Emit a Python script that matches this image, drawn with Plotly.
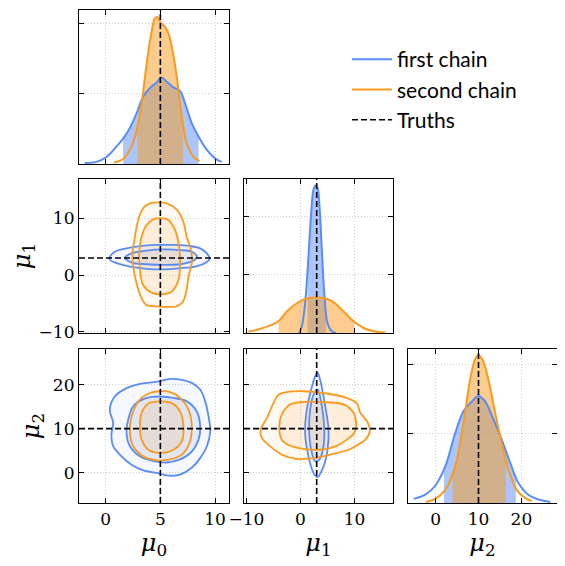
import numpy as np
import plotly.graph_objects as go

BLUE = "#5a8cf7"
ORANGE = "#f99b1e"
SERIF = "DejaVu Serif"

truths = [5, 3, 10]
labels = ["<i>μ</i><sub>0</sub>", "<i>μ</i><sub>1</sub>", "<i>μ</i><sub>2</sub>"]
ranges = [[-2.43, 11.27], [-10.43, 17.1], [-6.43, 28.3]]
row_ranges = [None, [-10.2, 16.9], [-6.9, 28.1]]
tickvals = [[0, 5, 10], [-10, 0, 10], [0, 10, 20]]
diag_top = [2.19, 2.64, 2.23]

# 1D marginals, heights in units of the diagonal tick spacing
mu0_first_x = [-1.91, -0.84, 0.08, 1.0, 1.6, 2.2, 2.83, 3.44, 4.05, 4.66, 5.12, 5.58, 6.19, 6.8, 7.26, 7.87, 8.49, 9.25, 10.0, 10.6]
mu0_first_h = [0.014, 0.03, 0.10, 0.25, 0.36, 0.51, 0.72, 0.96, 1.08, 1.16, 1.23, 1.17, 1.09, 1.04, 0.86, 0.58, 0.39, 0.20, 0.08, 0.03]
mu0_second_x = [0.78, 1.6, 2.37, 2.83, 3.29, 3.75, 4.2, 4.5, 4.72, 5.03, 5.43, 5.73, 6.04, 6.5, 6.96, 7.42, 8.03, 8.58]
mu0_second_h = [0.02, 0.07, 0.25, 0.48, 0.86, 1.43, 1.88, 2.07, 2.09, 2.01, 1.95, 1.86, 1.67, 1.24, 0.67, 0.29, 0.10, 0.04]

mu1_first_x = [-0.25, 0.25, 0.86, 1.48, 1.98, 2.41, 2.78, 3.15, 3.52, 3.95, 4.44, 5.0, 5.8, 6.6]
mu1_first_h = [0.0, 0.11, 0.51, 1.31, 2.06, 2.46, 2.53, 2.49, 2.17, 1.43, 0.63, 0.17, 0.03, 0.0]
mu1_second_x = [-9.6, -7.5, -5.6, -4.07, -2.53, -0.68, 1.17, 2.9, 4.57, 6.11, 7.96, 9.8, 11.67, 13.5, 15.7]
mu1_second_h = [0.02, 0.07, 0.13, 0.20, 0.37, 0.51, 0.59, 0.61, 0.59, 0.53, 0.37, 0.20, 0.086, 0.03, 0.01]

mu2_first_x = [-5.1, -2.4, -0.08, 2.25, 4.57, 6.5, 8.45, 10.0, 11.55, 13.5, 15.4, 17.4, 19.3, 21.6, 24.0, 26.7]
mu2_first_h = [0.06, 0.12, 0.25, 0.53, 1.01, 1.33, 1.47, 1.55, 1.47, 1.21, 0.92, 0.58, 0.29, 0.12, 0.05, 0.015]
mu2_second_x = [-2.25, -0.08, 2.25, 4.57, 6.5, 8.06, 9.2, 10.0, 10.9, 12.3, 13.9, 15.4, 17.0, 18.9, 20.9, 22.4]
mu2_second_h = [0.015, 0.06, 0.19, 0.53, 1.16, 1.79, 2.08, 2.14, 2.08, 1.79, 1.30, 0.87, 0.48, 0.19, 0.07, 0.03]

# shaded credible intervals (low, high)
first_interval = [(1.6, 8.49), (1.3, 4.75), (1.94, 18.7)]
second_interval = [(2.89, 7.08), (-4.07, 9.94), (3.95, 16.4)]

# 2D contours (outer, inner)
mu0_mu1_first = [
    [(0.38, 3.1), (0.84, 4.1), (1.91, 4.7), (3.13, 5.1), (4.66, 5.3), (6.19, 5.3), (7.72, 5.1), (8.64, 4.7),
     (9.25, 3.8), (9.5, 2.9), (9.1, 2.1), (8.18, 1.5), (6.8, 1.2), (5.28, 1.0), (3.75, 1.1), (2.22, 1.5),
     (1.0, 2.1), (0.44, 2.6)],
    [(1.76, 3.1), (2.37, 3.8), (3.75, 4.3), (5.28, 4.5), (6.8, 4.4), (7.87, 4.1), (8.33, 3.2), (7.87, 2.4),
     (6.8, 1.9), (5.28, 1.8), (3.75, 1.9), (2.37, 2.2), (1.85, 2.8)],
]
mu0_mu1_second = [
    [(4.66, 12.8), (5.58, 12.6), (6.5, 11.5), (7.05, 9.7), (7.4, 6.8), (7.8, 4.4), (7.87, 2.1), (7.57, -0.3),
     (7.4, -2.6), (7.05, -4.7), (6.5, -5.5), (5.58, -5.6), (4.66, -5.5), (3.75, -5.3), (3.29, -4.1),
     (2.83, -1.5), (2.52, 1.5), (2.46, 3.8), (2.68, 6.8), (2.98, 9.7), (3.44, 11.8), (4.05, 12.6)],
    [(4.97, 10.0), (5.73, 9.7), (6.35, 7.9), (6.71, 5.0), (6.8, 2.1), (6.65, -0.9), (6.04, -2.9), (5.12, -3.4),
     (4.2, -3.1), (3.44, -1.8), (3.13, 0.9), (3.07, 3.8), (3.29, 6.8), (3.75, 8.8), (4.36, 9.8)],
]
mu0_mu2_first = [
    [(4.97, 20.8), (5.89, 21.3), (6.96, 21.1), (7.87, 20.4), (8.64, 18.9), (9.1, 16.2), (9.4, 12.8), (9.56, 9.4),
     (9.25, 6.0), (8.64, 3.3), (7.87, 1.1), (6.8, -0.45), (5.73, -0.7), (4.66, -0.08), (3.44, 0.5), (2.37, 1.8),
     (1.45, 3.7), (0.69, 6.0), (0.53, 8.6), (0.69, 11.3), (0.38, 14.3), (0.84, 17.3), (1.91, 19.2),
     (3.13, 20.2), (4.2, 20.5)],
    [(4.97, 17.3), (6.19, 17.0), (7.42, 16.2), (8.33, 13.9), (8.64, 10.5), (8.49, 7.5), (7.87, 4.8), (6.8, 3.0),
     (5.58, 2.3), (4.36, 2.6), (3.13, 3.7), (2.22, 6.0), (1.91, 9.0), (2.06, 12.0), (2.52, 15.1), (3.44, 16.7),
     (4.2, 17.2)],
]
mu0_mu2_second = [
    [(4.97, 18.5), (5.89, 18.3), (6.8, 17.0), (7.57, 14.3), (7.87, 10.5), (7.66, 6.7), (6.96, 4.1), (5.89, 3.0),
     (4.66, 2.8), (3.44, 3.7), (2.52, 6.0), (2.22, 9.0), (2.37, 12.8), (3.13, 16.6), (4.05, 18.1)],
    [(4.97, 16.2), (6.04, 15.8), (6.8, 13.9), (7.11, 10.5), (6.96, 7.1), (6.19, 5.2), (4.97, 4.5), (3.9, 5.2),
     (3.29, 7.5), (3.13, 10.9), (3.29, 13.6), (3.9, 15.7)],
]
mu1_mu2_first = [
    [(3.15, 22.7), (3.77, 20.4), (4.57, 15.1), (5.19, 9.8), (5.0, 5.2), (4.26, 1.4), (3.15, -1.0), (2.41, -0.08),
     (1.48, 3.7), (0.86, 9.0), (1.17, 14.3), (1.98, 18.9), (2.72, 21.9)],
    [(3.15, 18.9), (3.95, 15.1), (4.38, 10.5), (4.26, 6.0), (3.52, 3.0), (2.72, 2.6), (1.98, 5.2), (1.6, 9.8),
     (1.79, 14.3), (2.41, 17.7)],
]
mu1_mu2_second = [
    [(-2.53, 18.3), (0.56, 18.5), (4.26, 18.1), (7.96, 17.2), (10.4, 15.8), (11.05, 13.6), (12.3, 11.7),
     (12.8, 9.4), (12.0, 7.5), (10.7, 6.4), (8.9, 5.2), (5.5, 4.1), (2.41, 3.3), (-0.68, 3.1), (-3.46, 4.1),
     (-5.6, 6.0), (-7.16, 7.9), (-7.35, 9.8), (-6.2, 12.4), (-5.0, 15.8), (-4.07, 17.7)],
    [(-1.9, 15.5), (1.17, 16.1), (4.88, 16.0), (7.96, 15.5), (9.8, 13.6), (10.3, 10.9), (9.94, 9.0),
     (8.58, 7.5), (6.73, 6.1), (3.64, 5.2), (0.56, 5.4), (-1.9, 6.1), (-3.46, 7.5), (-3.9, 10.1), (-3.46, 13.2)],
]

marginals = [
    (mu0_first_x, mu0_first_h, mu0_second_x, mu0_second_h),
    (mu1_first_x, mu1_first_h, mu1_second_x, mu1_second_h),
    (mu2_first_x, mu2_first_h, mu2_second_x, mu2_second_h),
]
pairs = {(1, 0): (mu0_mu1_first, mu0_mu1_second),
         (2, 0): (mu0_mu2_first, mu0_mu2_second),
         (2, 1): (mu1_mu2_first, mu1_mu2_second)}

# the page body adds an 8px margin, so the figure is 8px smaller and shifted
OFF = 8
W, H = 565 - OFF, 566 - OFF
col_px = [(79, 229), (244, 393), (408, 557)]
row_px = [(10, 164), (179, 333), (349, 503)]
panels = [(0, 0), (1, 0), (1, 1), (2, 0), (2, 1), (2, 2)]


def rgba(hex_color, a):
    h = hex_color.lstrip("#")
    r, g, b = int(h[0:2], 16), int(h[2:4], 16), int(h[4:6], 16)
    return f"rgba({r},{g},{b},{a})"


fig = go.Figure()
layout = {}

for n, (i, j) in enumerate(panels, start=1):
    xa = "x" if n == 1 else f"x{n}"
    ya = "y" if n == 1 else f"y{n}"
    common = dict(ticks="inside", ticklen=5, tickwidth=1, tickcolor="black",
                  showline=True, linecolor="black", linewidth=1.2, mirror="ticks",
                  showgrid=True, gridcolor="#cfcfcf", griddash="1px,2px", gridwidth=0.8,
                  zeroline=False, automargin=False,
                  tickfont=dict(family=SERIF, size=17, color="black"))
    x0, x1 = col_px[j]
    y0, y1 = row_px[i]
    xax = dict(common, domain=[(x0 - OFF) / W, (x1 - OFF) / W], range=ranges[j], tickvals=tickvals[j],
               showticklabels=(i == 2), anchor=ya)
    if i == 2:
        xax["title"] = dict(text=labels[j], font=dict(family=SERIF, size=24, color="black"), standoff=6)
    ydom = [1 - (y1 - OFF) / H, 1 - (y0 - OFF) / H]
    if i == j:
        yax = dict(common, domain=ydom, range=[0, diag_top[i]], tickvals=[1, 2],
                   showticklabels=False, anchor=xa)
    else:
        yax = dict(common, domain=ydom, range=row_ranges[i], tickvals=tickvals[i],
                   showticklabels=(j == 0), anchor=xa)
        if j == 0:
            yax["title"] = dict(text=labels[i], font=dict(family=SERIF, size=24, color="black"), standoff=6)
    layout["xaxis" if n == 1 else f"xaxis{n}"] = xax
    layout["yaxis" if n == 1 else f"yaxis{n}"] = yax

    if i == j:
        fx, fh, sx, sh = marginals[i]
        for xs, hs, color, (lo, hi) in [(fx, fh, BLUE, first_interval[i]),
                                         (sx, sh, ORANGE, second_interval[i])]:
            xs_a, hs_a = np.array(xs), np.array(hs)
            keep = (xs_a > lo) & (xs_a < hi)
            bx = np.concatenate([[lo], xs_a[keep], [hi]])
            bh = np.concatenate([[np.interp(lo, xs_a, hs_a)], hs_a[keep], [np.interp(hi, xs_a, hs_a)]])
            fig.add_trace(go.Scatter(x=bx, y=bh, mode="lines", fill="tozeroy", line=dict(width=0, shape="spline"),
                                     fillcolor=rgba(color, 0.5), xaxis=xa, yaxis=ya,
                                     showlegend=False, hoverinfo="skip"))
        for xs, hs, color, name in [(fx, fh, BLUE, "first chain"), (sx, sh, ORANGE, "second chain")]:
            fig.add_trace(go.Scatter(x=xs, y=hs, mode="lines", line=dict(color=color, width=2, shape="spline"),
                                     xaxis=xa, yaxis=ya, name=name, showlegend=(i == 0)))
    else:
        first, second = pairs[(i, j)]
        for chain, color in [(first, BLUE), (second, ORANGE)]:
            for k, contour in enumerate(chain):
                cx = [p[0] for p in contour] + [contour[0][0]]
                cy = [p[1] for p in contour] + [contour[0][1]]
                fig.add_trace(go.Scatter(x=cx, y=cy, mode="lines", fill="toself",
                                         fillcolor=rgba(color, 0.06 if k == 0 else 0.12),
                                         line=dict(width=0, shape="spline"), xaxis=xa, yaxis=ya,
                                         showlegend=False, hoverinfo="skip"))
        for chain, color in [(first, BLUE), (second, ORANGE)]:
            for contour in chain:
                cx = [p[0] for p in contour] + [contour[0][0]]
                cy = [p[1] for p in contour] + [contour[0][1]]
                fig.add_trace(go.Scatter(x=cx, y=cy, mode="lines", line=dict(color=color, width=1.8, shape="spline"),
                                         xaxis=xa, yaxis=ya, showlegend=False, hoverinfo="skip"))

# truth lines
shapes = []
for n, (i, j) in enumerate(panels, start=1):
    sx = "x" if n == 1 else f"x{n}"
    sy = "y" if n == 1 else f"y{n}"
    dash = dict(color="black", width=1.6, dash="6px,3px")
    shapes.append(dict(type="line", xref=sx, yref=f"{sy} domain", x0=truths[j], x1=truths[j], y0=0, y1=1, line=dash))
    if i != j:
        shapes.append(dict(type="line", xref=f"{sx} domain", yref=sy, x0=0, x1=1, y0=truths[i], y1=truths[i], line=dash))

fig.add_trace(go.Scatter(x=[None], y=[None], mode="lines", name="Truths",
                         line=dict(color="black", width=1.6, dash="6px,3px")))

fig.update_layout(
    width=W, height=H,
    margin=dict(l=0, r=0, t=0, b=0),
    paper_bgcolor="white", plot_bgcolor="white",
    font=dict(family=SERIF, color="black"),
    shapes=shapes,
    showlegend=True,
    legend=dict(x=(347 - OFF) / W, y=1 - (39 - OFF) / H, xanchor="left", yanchor="top", bgcolor="rgba(0,0,0,0)",
                font=dict(family="Lato", size=21, color="black"), tracegroupgap=4, itemwidth=40),
    **layout,
)

fig.write_html("out.html")
